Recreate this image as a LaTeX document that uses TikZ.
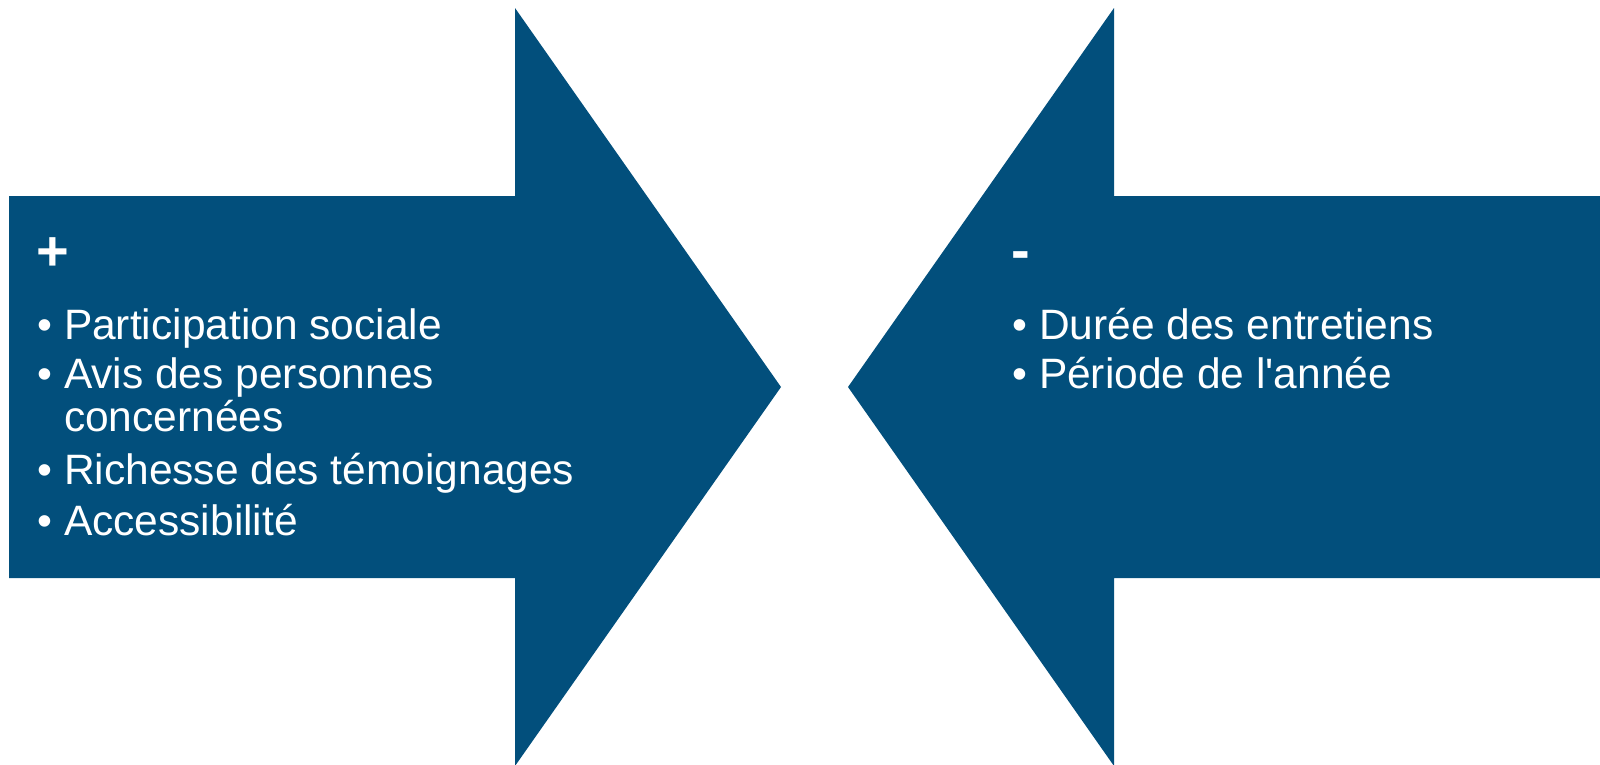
\documentclass[tikz,border=0pt]{standalone}
\usepackage{fontspec}
\newfontfamily\arialfont{Liberation Sans}
\definecolor{arrowblue}{HTML}{024F7C}
\begin{document}
\begin{tikzpicture}[x=1pt,y=-1pt,
  arrowshape/.style={fill=arrowblue,draw=none},
  itemtxt/.style={text=white,font=\arialfont\fontsize{42.5}{48}\selectfont,anchor=base west,inner sep=0pt,outer sep=0pt},
  headtxt/.style={text=white,font=\arialfont\fontsize{56}{60}\selectfont\bfseries,anchor=base west,inner sep=0pt,outer sep=0pt}]
\useasboundingbox (0,0) rectangle (1600,764);
\clip (0,0) rectangle (1600,764);
% left arrow (pointing right)
\fill[arrowshape] (9,196) -- (515,196) -- (515,8) -- (781,387) -- (515,766) -- (515,578) -- (9,578) -- cycle;
% right arrow (pointing left)
\fill[arrowshape] (1600,196) -- (1114,196) -- (1114,8) -- (848,387) -- (1114,766) -- (1114,578) -- (1600,578) -- cycle;
% left texts
\node[headtxt] (plus) at (36,270) {+};
\node[itemtxt] (lb1) at (37,339) {•};
\node[itemtxt] (lt1) at (64,339) {Participation sociale};
\node[itemtxt] (lb2) at (37,388) {•};
\node[itemtxt] (lt2) at (64,388) {Avis des personnes};
\node[itemtxt] (lt2b) at (64,431) {concernées};
\node[itemtxt] (lb3) at (37,484) {•};
\node[itemtxt] (lt3) at (64,484) {Richesse des témoignages};
\node[itemtxt] (lb4) at (37,535) {•};
\node[itemtxt] (lt4) at (64,535) {Accessibilité};
% right texts
\node[headtxt] (minus) at (1011,269) {-};
\node[itemtxt] (rb1) at (1012,339) {•};
\node[itemtxt] (rt1) at (1039,339) {Durée des entretiens};
\node[itemtxt] (rb2) at (1012,388) {•};
\node[itemtxt] (rt2) at (1039,388) {Période de l'année};
\end{tikzpicture}
\end{document}
